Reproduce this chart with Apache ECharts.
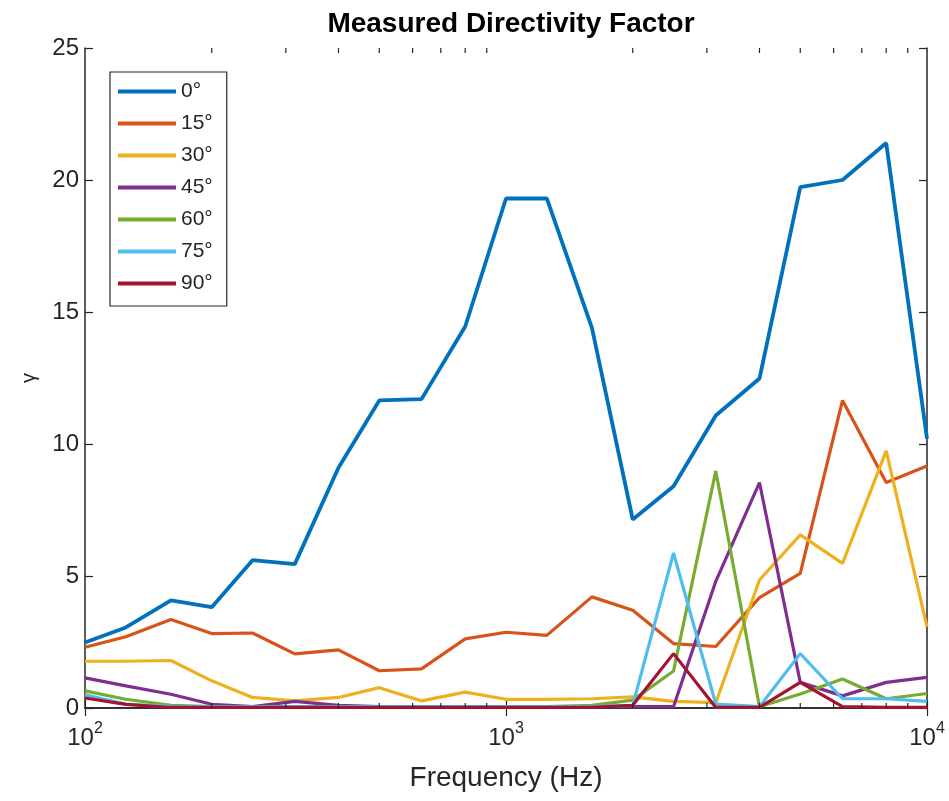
<!DOCTYPE html>
<html>
<head>
<meta charset="utf-8">
<script src="https://cdn.jsdelivr.net/npm/echarts@6/dist/echarts.min.js"></script>
<style>
  html, body { margin: 0; padding: 0; background: #ffffff; }
  #chart { width: 949px; height: 801px; }
</style>
</head>
<body>
<div id="chart"></div>
<script>
// Third-octave band centre frequencies (Hz)
const freqs = [100, 125, 160, 200, 250, 315, 400, 500, 630, 800, 1000,
               1250, 1600, 2000, 2500, 3150, 4000, 5000, 6300, 8000, 10000];

// Directivity factor per measurement angle
const deg0  = [2.48, 3.05, 4.08, 3.82, 5.6, 5.45, 9.1, 11.65, 11.7, 14.45, 19.3,
               19.3, 14.4, 7.14, 8.4, 11.08, 12.48, 19.73, 20.0, 21.4, 10.2];
const deg15 = [2.3, 2.7, 3.35, 2.82, 2.84, 2.05, 2.2, 1.41, 1.48, 2.62, 2.87,
               2.75, 4.21, 3.7, 2.44, 2.33, 4.18, 5.1, 11.65, 8.54, 9.17];
const deg30 = [1.77, 1.77, 1.8, 1.03, 0.4, 0.27, 0.4, 0.77, 0.27, 0.6, 0.33,
               0.33, 0.35, 0.42, 0.25, 0.2, 4.85, 6.56, 5.48, 9.74, 3.07];
const deg45 = [1.14, 0.84, 0.52, 0.14, 0.05, 0.25, 0.1, 0.05, 0.05, 0.05, 0.05,
               0.05, 0.05, 0.05, 0.05, 4.8, 8.54, 0.97, 0.46, 0.97, 1.16];
const deg60 = [0.65, 0.33, 0.1, 0.05, 0.05, 0.05, 0.05, 0.05, 0.05, 0.05, 0.05,
               0.05, 0.1, 0.3, 1.4, 8.98, 0.05, 0.53, 1.1, 0.35, 0.55];
const deg75 = [0.5, 0.15, 0.05, 0.05, 0.05, 0.05, 0.05, 0.05, 0.05, 0.05, 0.05,
               0.05, 0.05, 0.1, 5.87, 0.15, 0.05, 2.06, 0.35, 0.35, 0.25];
const deg90 = [0.38, 0.14, 0.02, 0.02, 0.02, 0.02, 0.02, 0.02, 0.02, 0.02, 0.02,
               0.02, 0.02, 0.1, 2.06, 0.02, 0.02, 0.97, 0.05, 0.02, 0.02];

const angleNames = ['0°', '15°', '30°', '45°', '60°', '75°', '90°'];
const angleData  = [deg0, deg15, deg30, deg45, deg60, deg75, deg90];
const colors = ['#0072BD', '#D95319', '#EDB120', '#7E2F8E', '#77AC30', '#4DBEEE', '#A2142F'];

// Axis ticks
const yTicks = [0, 5, 10, 15, 20, 25];
const xMinorTicks = [200, 300, 400, 500, 600, 700, 800, 900,
                     2000, 3000, 4000, 5000, 6000, 7000, 8000, 9000];

const ink = '#262626';
const font = 'Liberation Sans, Arial, Helvetica, sans-serif';

const lineSeries = angleNames.map((name, k) => ({
  name: name,
  type: 'line',
  data: freqs.map((f, i) => [f, angleData[k][i]]),
  showSymbol: false,
  symbol: 'none',
  lineStyle: { width: k === 0 ? 3.8 : 3.2, color: colors[k] },
  itemStyle: { color: colors[k] },
  emphasis: { disabled: true },
  z: 2 + k
}));

// Minor ticks on the logarithmic frequency axis (bottom and top edges)
const minorTickSeries = {
  type: 'custom',
  silent: true,
  data: xMinorTicks.map(v => [v]),
  renderItem: function (params, api) {
    const v = api.value(0);
    const bottom = api.coord([v, yTicks[0]]);
    const top = api.coord([v, yTicks[yTicks.length - 1]]);
    const style = { stroke: ink, lineWidth: 1.2 };
    return {
      type: 'group',
      children: [
        { type: 'line', shape: { x1: bottom[0], y1: bottom[1], x2: bottom[0], y2: bottom[1] - 5 }, style: style },
        { type: 'line', shape: { x1: top[0], y1: top[1], x2: top[0], y2: top[1] + 5 }, style: style }
      ]
    };
  },
  z: 20
};

const chart = echarts.init(document.getElementById('chart'), null, { renderer: 'canvas' });

const axisLine = { show: true, lineStyle: { color: ink, width: 1.5 } };
const tickStyle = { show: true, inside: true, length: 8, lineStyle: { color: ink, width: 1.2 } };

chart.setOption({
  animation: false,
  backgroundColor: '#ffffff',
  color: colors,
  title: {
    text: 'Measured Directivity Factor',
    left: 506,
    textAlign: 'center',
    top: 5,
    textStyle: { fontFamily: font, fontWeight: 'bold', fontSize: 28, color: '#000000' }
  },
  legend: {
    data: angleNames,
    orient: 'vertical',
    left: 110,
    top: 72,
    padding: [9, 14, 12, 8],
    itemWidth: 58,
    itemHeight: 4,
    itemGap: 11,
    icon: 'rect',
    borderColor: ink,
    borderWidth: 1.2,
    backgroundColor: '#ffffff',
    textStyle: { fontFamily: font, fontSize: 21, color: ink, lineHeight: 21 }
  },
  grid: { left: 85, right: 22, top: 48, bottom: 93, containLabel: false },
  xAxis: [
    {
      type: 'log',
      logBase: 10,
      min: freqs[0],
      max: freqs[freqs.length - 1],
      interval: 1,
      position: 'bottom',
      name: 'Frequency (Hz)',
      nameLocation: 'middle',
      nameGap: 56,
      nameTextStyle: { fontFamily: font, fontSize: 28, color: ink },
      axisLine: axisLine,
      axisTick: tickStyle,
      splitLine: { show: false },
      axisLabel: {
        margin: 13,
        formatter: function (v) {
          return '{b|10}{s|' + Math.round(Math.log10(v)) + '}';
        },
        rich: {
          b: { fontFamily: font, fontSize: 24, lineHeight: 34, color: ink },
          s: { fontFamily: font, fontSize: 16, lineHeight: 16, color: ink, verticalAlign: 'top' }
        }
      }
    },
    {
      type: 'log',
      logBase: 10,
      min: freqs[0],
      max: freqs[freqs.length - 1],
      interval: 1,
      position: 'top',
      axisLine: axisLine,
      axisTick: tickStyle,
      axisLabel: { show: false },
      splitLine: { show: false }
    }
  ],
  yAxis: [
    {
      type: 'value',
      min: yTicks[0],
      max: yTicks[yTicks.length - 1],
      interval: 5,
      position: 'left',
      name: 'γ',
      nameLocation: 'middle',
      nameRotate: 90,
      nameGap: 46,
      nameTextStyle: { fontFamily: font, fontSize: 20, color: ink },
      axisLine: axisLine,
      axisTick: tickStyle,
      splitLine: { show: false },
      axisLabel: { margin: 6, fontFamily: font, fontSize: 24, color: ink }
    },
    {
      type: 'value',
      min: yTicks[0],
      max: yTicks[yTicks.length - 1],
      interval: 5,
      position: 'right',
      axisLine: axisLine,
      axisTick: tickStyle,
      axisLabel: { show: false },
      splitLine: { show: false }
    }
  ],
  series: lineSeries.concat([minorTickSeries])
});
</script>
</body>
</html>
